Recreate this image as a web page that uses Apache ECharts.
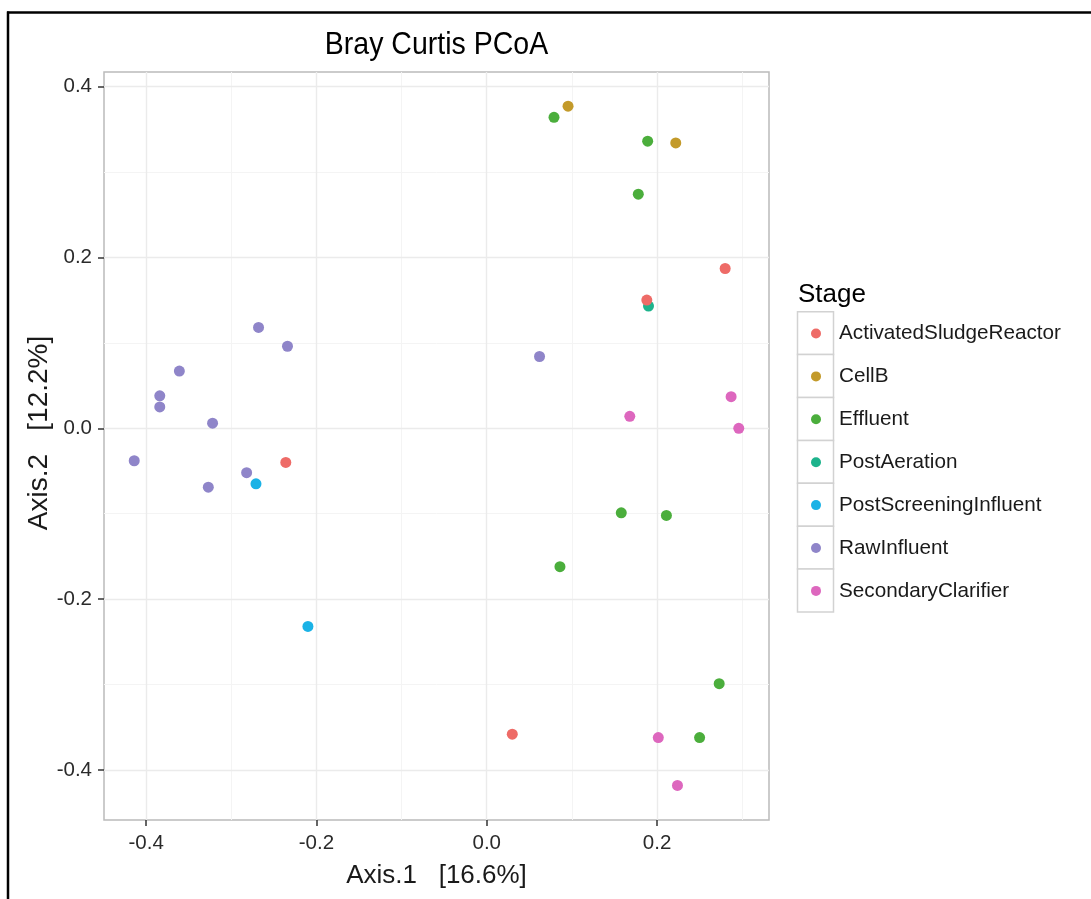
<!DOCTYPE html>
<html><head><meta charset="utf-8">
<script src="https://cdn.jsdelivr.net/npm/echarts@6/dist/echarts.min.js"></script>
<style>html,body{margin:0;padding:0;background:#fff}#c{width:1091px;height:899px}</style>
</head><body><div id="c"></div>
<script>
// ---- data ----
const stages = ['ActivatedSludgeReactor','CellB','Effluent','PostAeration','PostScreeningInfluent','RawInfluent','SecondaryClarifier'];
const stageColors = ['#EE6B67','#C39A2A','#4BAE3C','#1DB38C','#1AB2E6','#8F85C9','#DD67BE'];
const activatedSludgeReactor = [[-0.236,-0.040],[0.280,0.187],[0.188,0.150],[0.030,-0.358]];
const cellB = [[0.0955,0.377],[0.222,0.334]];
const effluent = [[0.079,0.364],[0.189,0.336],[0.178,0.274],[0.158,-0.099],[0.211,-0.102],[0.086,-0.162],[0.273,-0.299],[0.250,-0.362]];
const postAeration = [[0.190,0.143]];
const postScreeningInfluent = [[-0.271,-0.065],[-0.210,-0.232]];
const rawInfluent = [[-0.268,0.118],[-0.234,0.096],[-0.361,0.067],[-0.384,0.038],[-0.384,0.025],[-0.322,0.006],[-0.414,-0.038],[-0.282,-0.052],[-0.327,-0.069],[0.062,0.084]];
const secondaryClarifier = [[0.287,0.037],[0.168,0.014],[0.296,0.000],[0.2015,-0.362],[0.224,-0.418]];
const xTicks = [-0.4,-0.2,0,0.2];
const yTicks = [-0.4,-0.2,0,0.2,0.4];
const xMinor = [-0.3,-0.1,0.1,0.3];
const yMinor = [-0.3,-0.1,0.1,0.3];
const xRange = [-0.4495, 0.3315];
const yRange = [-0.4585, 0.417];
const titleText = 'Bray Curtis PCoA';
const xName = 'Axis.1   [16.6%]';
const yName = 'Axis.2   [12.2%]';
const legendTitle = 'Stage';

const seriesData = [activatedSludgeReactor, cellB, effluent, postAeration, postScreeningInfluent, rawInfluent, secondaryClarifier];
const FONT = '"Liberation Sans", Arial, Helvetica, sans-serif';

const chart = echarts.init(document.getElementById('c'), null, {renderer:'canvas'});

const grid = {left:104, top:72, width:665, height:748};
const gridSeries = {
  type:'scatter', name:'__grid', data:[], silent:true, z:0,
  markLine:{
    z:1, silent:true, symbol:['none','none'], label:{show:false}, animation:false,
    data: [
      ...xMinor.map(v=>({xAxis:v, lineStyle:{color:'#F4F4F4', width:1, type:'solid'}})),
      ...yMinor.map(v=>({yAxis:v, lineStyle:{color:'#F4F4F4', width:1, type:'solid'}})),
      ...xTicks.map(v=>({xAxis:v, lineStyle:{color:'#EBEBEB', width:1.4, type:'solid'}})),
      ...yTicks.map(v=>({yAxis:v, lineStyle:{color:'#EBEBEB', width:1.4, type:'solid'}}))
    ]
  }
};

const boxes = stages.map((s,i)=>({
  type:'rect', shape:{x:797.5, y:311.7+i*42.9, width:36, height:42.9},
  style:{fill:'#fff', stroke:'#D2D2D2', lineWidth:1.5}, z:-1
}));

chart.setOption({
  animation:false,
  backgroundColor:'#fff',
  grid:{...grid, show:true, borderColor:'#BBBBBB', borderWidth:1.5, backgroundColor:'#fff'},
  xAxis:{
    type:'value', min:xRange[0], max:xRange[1],
    name:xName, nameLocation:'middle', nameGap:43,
    nameTextStyle:{fontSize:26, color:'#1a1a1a', fontFamily:FONT},
    axisLine:{show:false, onZero:false},
    axisTick:{show:true, length:6, customValues:xTicks, lineStyle:{color:'#333', width:1.5}},
    axisLabel:{customValues:xTicks, fontSize:20.5, color:'#2a2a2a', fontFamily:FONT, margin:13, formatter:v=>v.toFixed(1)},
    splitLine:{show:false}
  },
  yAxis:{
    type:'value', min:yRange[0], max:yRange[1],
    axisLine:{show:false, onZero:false},
    axisTick:{show:true, length:6, customValues:yTicks, lineStyle:{color:'#333', width:1.5}},
    axisLabel:{customValues:yTicks, fontSize:20.5, color:'#2a2a2a', fontFamily:FONT, margin:12, formatter:v=>v.toFixed(1)},
    splitLine:{show:false}
  },
  legend:{
    orient:'vertical', left:811, top:323, padding:0, itemWidth:10, itemHeight:10, itemGap:21.9,
    icon:'circle', data:stages, selectedMode:false,
    textStyle:{fontSize:20.7, lineHeight:20, color:'#1a1a1a', fontFamily:FONT, padding:[0,0,0,13]}
  },
  graphic:[
    {type:'line', shape:{x1:7, y1:12.5, x2:1091, y2:12.5}, style:{stroke:'#000', lineWidth:2.5}},
    {type:'line', shape:{x1:8, y1:11.5, x2:8, y2:899}, style:{stroke:'#000', lineWidth:2.5}},
    {type:'text', x:436.5, y:45, scaleY:1.12, style:{text:titleText, align:'center', verticalAlign:'middle', font:'28.5px '+FONT, fill:'#000'}},
    {type:'text', x:798, y:295, style:{text:legendTitle, align:'left', verticalAlign:'middle', font:'26px '+FONT, fill:'#000'}},
    {type:'text', x:39, y:433, rotation:Math.PI/2, style:{text:yName, align:'center', verticalAlign:'middle', font:'28px '+FONT, fill:'#1a1a1a'}},
    ...boxes
  ],
  series:[gridSeries, ...stages.map((s,i)=>({
    type:'scatter', name:s, data:seriesData[i], symbolSize:11,
    itemStyle:{color:stageColors[i], opacity:1},
    emphasis:{disabled:true}, z: i===0 ? 4 : 3
  }))]
});
</script></body></html>
